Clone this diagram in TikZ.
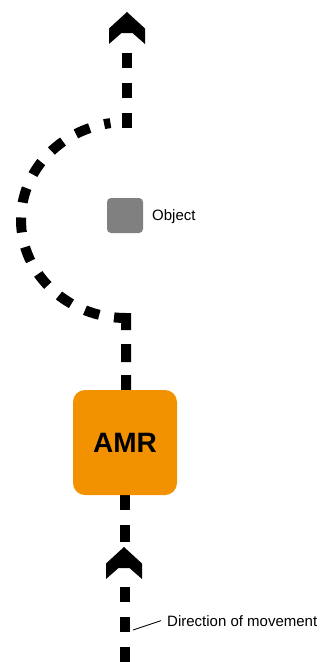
\documentclass[tikz,border=0pt]{standalone}
\usepackage{fontspec}
\setmainfont{Liberation Sans}
\definecolor{amrorange}{RGB}{242,146,0}
\definecolor{objgray}{RGB}{128,128,128}
\begin{document}
\begin{tikzpicture}[x=1pt,y=-1pt,
  route/.style={line width=10pt, dash pattern=on 15pt off 15pt},
  chev/.pic={\fill[black] (0,0) -- (18,16.5) -- (18,32) -- (5.5,21) -- (-5.5,21) -- (-18,32) -- (-18,16.5) -- cycle;},
  amrbox/.style={fill=amrorange, rounded corners=12pt, minimum width=104pt, minimum height=105pt, inner sep=0pt, font=\bfseries\fontsize{28}{30}\selectfont},
  objbox/.style={fill=objgray, rounded corners=4pt, minimum width=36pt, minimum height=35pt, inner sep=0pt},
  lbl/.style={inner sep=0pt, font=\fontsize{15}{17}\selectfont}]
\useasboundingbox[fill=white] (0,0) rectangle (321,662);
% route coordinates
\coordinate (bot) at (125,662);
\coordinate (lowA) at (125,582);
\coordinate (lowB) at (125,545);
\coordinate (amrtop) at (126,390);
\coordinate (arcstart) at (126,318);
\coordinate (toplow) at (127,128);
\coordinate (topend) at (127,44);
\coordinate (arrowlow) at (124,547);
\coordinate (arrowtop) at (127,12);
% route
\draw[route] (bot) -- (lowA);
\draw[route, dash pattern=on 17pt off 15pt, dash phase=29pt] (lowB) -- (125,442.5);
\draw[line width=10pt, miter limit=4,
  dash pattern=on 15pt off 13pt on 18pt off 14pt on 24pt off 15pt on 15pt off 15pt on 15pt off 15pt on 15pt off 15pt on 15pt off 15pt on 15pt off 15pt on 15pt off 15pt on 15pt off 15pt on 15pt off 15pt on 15pt off 15pt on 15pt off 15pt on 15pt off 15pt]
  (amrtop) -- (arcstart)
  arc[start angle=90, end angle=261.5, x radius=105, y radius=98];
\draw[route] (toplow) -- (topend);
\pic at (arrowlow) {chev};
\pic at (arrowtop) {chev};
% nodes
\node[amrbox] (amr) at (125,442.5) {AMR};
\node[objbox] (obj) at (125,215.5) {};
\node[lbl, anchor=base west] (objlabel) at (152,220) {Object};
\node[lbl, anchor=base west] (dirlabel) at (167,626) {Direction of movement};
\coordinate (lblpt) at (133,630);
\draw[line width=0.9pt] (lblpt) -- ([xshift=-6pt]dirlabel.west);
\end{tikzpicture}
\end{document}
